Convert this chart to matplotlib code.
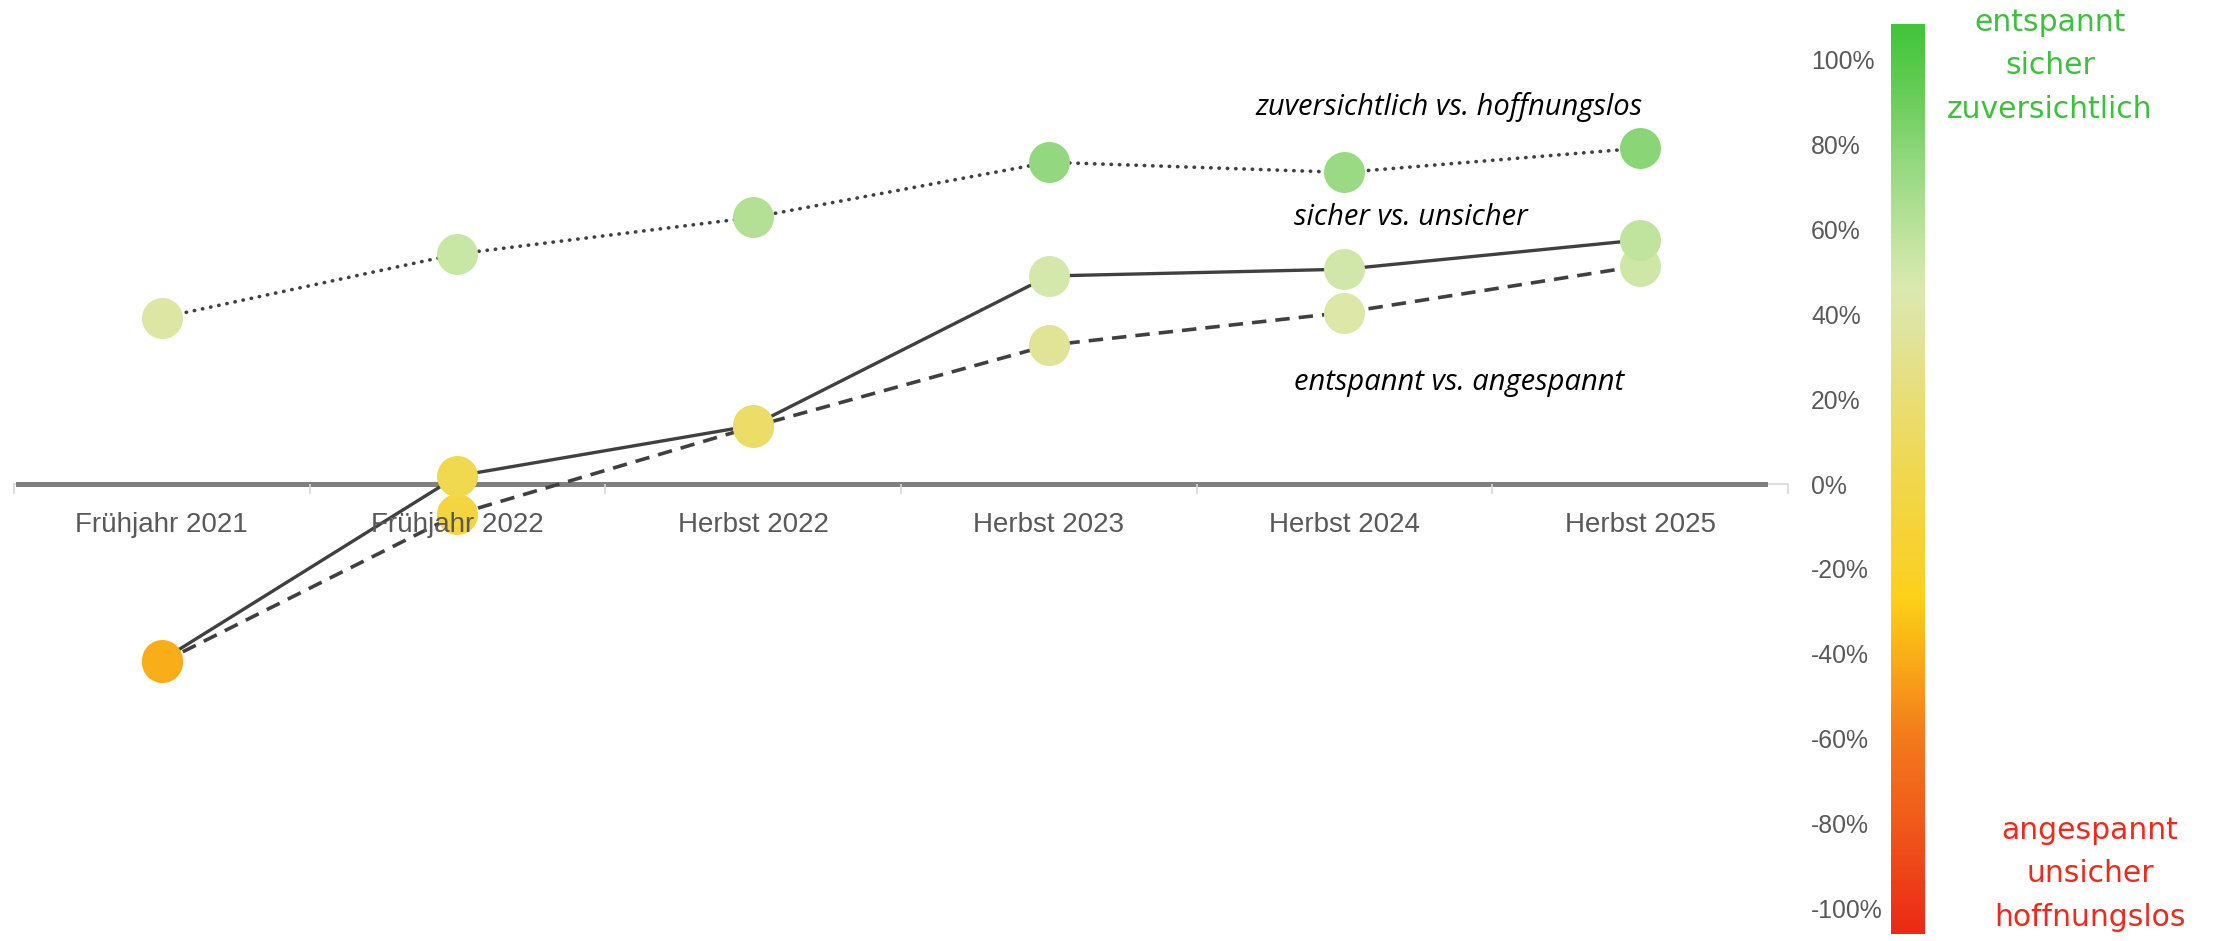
import numpy as np
import matplotlib
matplotlib.use("Agg")
import matplotlib.pyplot as plt
from matplotlib.colors import LinearSegmentedColormap, Normalize

# Befragungswellen
wellen = ["Frühjahr 2021", "Frühjahr 2022", "Herbst 2022", "Herbst 2023", "Herbst 2024", "Herbst 2025"]

# Saldo in Prozent je Gegensatzpaar
zuversichtlich = [39.2, 54.2, 62.8, 75.8, 73.4, 79.1]
sicher = [-41.5, 1.9, 13.8, 49.0, 50.6, 57.5]
entspannt = [-42.0, -7.1, 13.5, 32.7, 40.4, 51.4]

y_ticks = [100, 80, 60, 40, 20, 0, -20, -40, -60, -80, -100]
y_labels = ["100%", "80%", "60%", "40%", "20%", "0%", "-20%", "-40%", "-60%", "-80%", "-100%"]

# Farbskala: Stützstellen (Wert in %) und Farben
skala_werte = [-106, -80, -60, -42, -27, -20, 0, 14, 35, 46, 54, 63, 78, 90, 108]
skala_farben = ["#EC2A16", "#F05A1A", "#F47A1C", "#F9AB18", "#FDD117", "#F9D22A", "#F1D74A",
                "#ECDC68", "#E0E49C", "#DBE9B0", "#C9E6A4", "#B3E096", "#8ED77A", "#6DCE5C", "#40C538"]

vmin, vmax = skala_werte[0], skala_werte[-1]
norm = Normalize(vmin, vmax)
cmap = LinearSegmentedColormap.from_list(
    "stimmung", [((v - vmin) / (vmax - vmin), c) for v, c in zip(skala_werte, skala_farben)])

fig = plt.figure(figsize=(22.18, 9.41), dpi=100)
ax = fig.add_axes([14 / 2218, 1 - 908.5 / 941, 1774 / 2218, 849 / 941])

x = np.arange(len(wellen))
linie = "#404040"
ms = 29.5

ax.plot(x, zuversichtlich, color=linie, lw=2.6, linestyle=(0, (0.1, 2.2)),
        dash_capstyle="round", zorder=2.1)
ax.plot(x, entspannt, color=linie, lw=2.6, linestyle=(0, (4, 2.5)), zorder=2.1)
ax.plot(x, sicher, color=linie, lw=2.4, linestyle="-", zorder=2.1)

for reihe in (entspannt, sicher, zuversichtlich):
    for xi, v in zip(x, reihe):
        ax.plot(xi, v, "o", ms=ms, mec="none", mfc=cmap(norm(v)), zorder=2.2)

# Achsen
for s in ["top", "left", "right"]:
    ax.spines[s].set_visible(False)
ax.spines["bottom"].set_position(("data", 0))
ax.spines["bottom"].set_color("#D9D9D9")
ax.spines["bottom"].set_linewidth(1.2)
ax.spines["bottom"].set_zorder(1)

# Nulllinie
ax.axhline(0, xmin=0.002, xmax=0.987, color="#7F7F7F", lw=3.6, zorder=2.05)

ax.set_xlim(-0.5, len(wellen) - 0.5)
ax.set_ylim(-100, 100)

ax.set_xticks(x)
ax.set_xticklabels(wellen)
ax.set_xticks(np.arange(len(wellen) + 1) - 0.5, minor=True)
ax.tick_params(axis="x", which="major", length=0, pad=20, labelsize=20, labelcolor="#595959")
ax.tick_params(axis="x", which="minor", length=7, color="#D9D9D9", width=1.2)
for t in ax.get_xticklabels():
    t.set_family("Liberation Sans")

ax.yaxis.tick_right()
ax.set_yticks(y_ticks)
ax.set_yticklabels(y_labels)
ax.tick_params(axis="y", length=0, pad=16.5, labelsize=17.8, labelcolor="#595959")
for t in ax.get_yticklabels():
    t.set_family("Liberation Sans")
ax.xaxis.set_zorder(5)

label_font = dict(fontsize=21, style="italic", color="black", family="Open Sans")
ax.text(3.70, 88.8, "zuversichtlich vs. hoffnungslos", ha="left", va="center", **label_font)
ax.text(3.83, 62.7, "sicher vs. unsicher", ha="left", va="center", **label_font)
ax.text(3.83, 24.0, "entspannt vs. angespannt", ha="left", va="center", **label_font)

# Farbbalken
cax = fig.add_axes([1891 / 2218, 1 - 934 / 941, 33 / 2218, 910 / 941])
verlauf = np.linspace(vmin, vmax, 512).reshape(-1, 1)
cax.imshow(verlauf, cmap=cmap, norm=norm, aspect="auto", origin="lower",
           extent=[0, 1, vmin, vmax])
cax.axis("off")

fig.text(2050 / 2218, 1 - 66 / 941, "entspannt\nsicher\nzuversichtlich", ha="center", va="center",
         fontsize=21.5, color="#3CC13A", family="DejaVu Sans", linespacing=1.62)
fig.text(2090 / 2218, 1 - 874 / 941, "angespannt\nunsicher\nhoffnungslos", ha="center", va="center",
         fontsize=21.5, color="#EE2A1B", family="DejaVu Sans", linespacing=1.62)

fig.savefig("out.png", dpi=100)
